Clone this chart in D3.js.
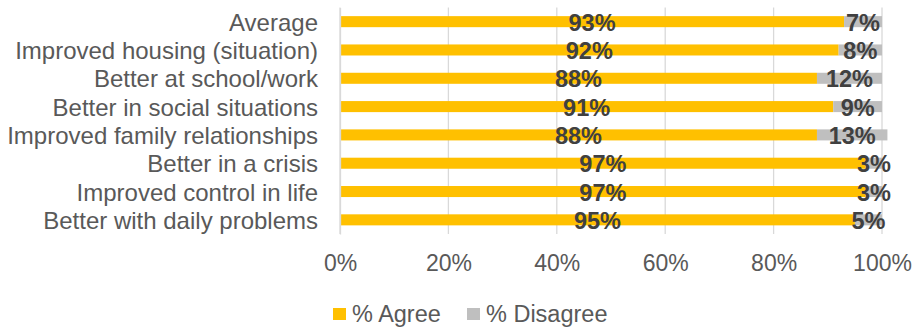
<!DOCTYPE html>
<html>
<head>
<meta charset="utf-8">
<script src="https://cdn.jsdelivr.net/npm/d3@7"></script>
<style>
  html, body { margin: 0; padding: 0; background: #fff; }
  svg { display: block; font-family: Arial, "Liberation Sans", sans-serif; }
</style>
</head>
<body>
<svg id="chart" width="917" height="329"></svg>
<script>
// Survey outcomes: share of respondents agreeing / disagreeing
const categories = [
  "Average",
  "Improved housing (situation)",
  "Better at school/work",
  "Better in social situations",
  "Improved family relationships",
  "Better in a crisis",
  "Improved control in life",
  "Better with daily problems"
];
const agree    = [93, 92, 88, 91, 88, 97, 97, 95];
const disagree = [7, 8, 12, 9, 13, 3, 3, 5];
const seriesNames = ["% Agree", "% Disagree"];
const seriesColors = ["#FFC000", "#BFBFBF"];
const xTicks = [0, 20, 40, 60, 80, 100];

const svg = d3.select("#chart");
const plotLeft = 340, plotRight = 882, plotTop = 7.5, plotBottom = 234;
const fontFamily = "Arial, 'Liberation Sans', sans-serif";

const x = d3.scaleLinear().domain([0, 100]).range([plotLeft, plotRight]);
const y = d3.scaleBand().domain(categories).range([plotTop, plotBottom]).paddingInner(0.61).paddingOuter(0.305);

// Gridlines
svg.append("g")
  .selectAll("line")
  .data(xTicks)
  .join("line")
  .attr("x1", d => x(d)).attr("x2", d => x(d))
  .attr("y1", plotTop).attr("y2", plotBottom)
  .attr("stroke", "#D9D9D9")
  .attr("stroke-width", 1.3);

// Stacked bars
const rows = categories.map((c, i) => ({ cat: c, vals: [agree[i], disagree[i]] }));
const segs = [];
rows.forEach(r => {
  let acc = 0;
  r.vals.forEach((v, k) => {
    segs.push({ cat: r.cat, k, x0: acc, x1: acc + v, v });
    acc += v;
  });
});

svg.append("g")
  .selectAll("rect")
  .data(segs)
  .join("rect")
  .attr("x", d => x(d.x0))
  .attr("width", d => x(d.x1) - x(d.x0))
  .attr("y", d => y(d.cat))
  .attr("height", y.bandwidth())
  .attr("fill", d => seriesColors[d.k]);

// Value labels
svg.append("g")
  .selectAll("text")
  .data(segs)
  .join("text")
  .attr("x", d => (x(d.x0) + x(d.x1)) / 2)
  .attr("y", d => y(d.cat) + y.bandwidth() / 2 + 9)
  .attr("text-anchor", "middle")
  .attr("font-size", 23.5)
  .attr("font-weight", "bold")
  .attr("fill", "#404040")
  .text(d => d.v + "%");

// Category axis
const yAxis = svg.append("g")
  .attr("transform", `translate(${plotLeft},0)`)
  .call(d3.axisLeft(y).tickSize(0).tickPadding(22));
yAxis.select(".domain").attr("stroke", "#D9D9D9").attr("stroke-width", 1.3);
yAxis.selectAll("text")
  .attr("font-size", 24)
  .attr("font-family", fontFamily)
  .attr("fill", "#595959")
  .attr("dy", null)
  .attr("y", 9);

// Value axis
const xAxis = svg.append("g")
  .attr("transform", `translate(0,${plotBottom})`)
  .call(d3.axisBottom(x).tickValues(xTicks).tickFormat(d => d + "%").tickSize(0).tickPadding(0));
xAxis.select(".domain").remove();
xAxis.selectAll("text")
  .attr("font-size", 23)
  .attr("font-family", fontFamily)
  .attr("fill", "#595959")
  .attr("dy", null)
  .attr("y", 36.5);

// Legend
const legendX = [333, 467];
const legend = svg.append("g")
  .selectAll("g")
  .data(seriesNames)
  .join("g")
  .attr("transform", (d, i) => `translate(${legendX[i]},308)`);
legend.append("rect")
  .attr("width", 13).attr("height", 12)
  .attr("fill", (d, i) => seriesColors[i]);
legend.append("text")
  .attr("x", 19).attr("y", 14)
  .attr("font-size", 23.5)
  .attr("fill", "#595959")
  .text(d => d);
</script>
</body>
</html>
